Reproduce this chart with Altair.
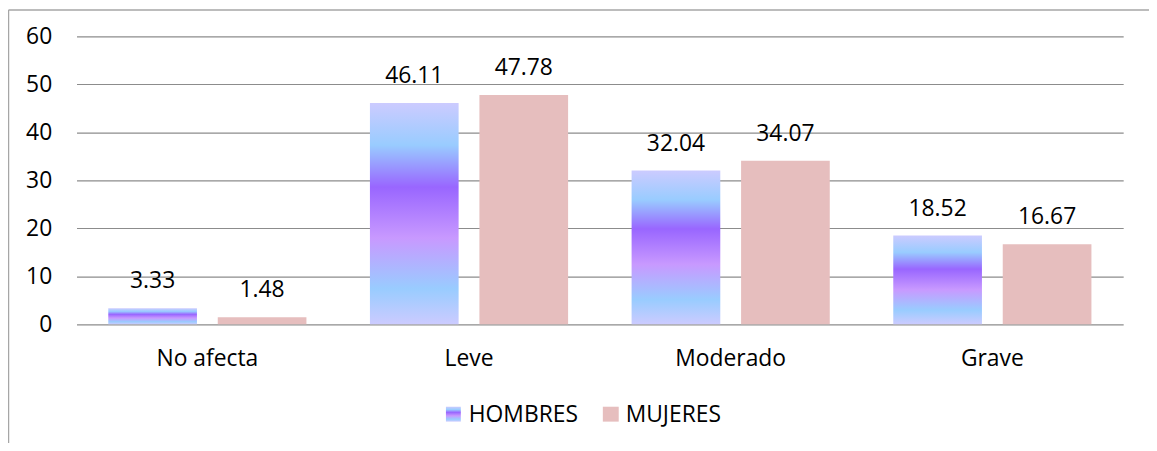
import altair as alt
import pandas as pd

categories = ["No afecta", "Leve", "Moderado", "Grave"]
series = ["HOMBRES", "MUJERES"]
hombres = [3.33, 46.11, 32.04, 18.52]
mujeres = [1.48, 47.78, 34.07, 16.67]
y_ticks = [0, 10, 20, 30, 40, 50, 60]

rows = []
for c, h, m in zip(categories, hombres, mujeres):
    rows.append({"cat": c, "serie": series[0], "valor": h})
    rows.append({"cat": c, "serie": series[1], "valor": m})
df = pd.DataFrame(rows)

FONT = "Open Sans"
FS = 23
MUJ_COLOR = "#e6bebe"
FRAME = "#a6a6a6"

grad = alt.Gradient(
    gradient="linear", x1=0, y1=0, x2=0, y2=1,
    stops=[
        alt.GradientStop(color="#cccbff", offset=0),
        alt.GradientStop(color="#99ccff", offset=0.19),
        alt.GradientStop(color="#9966ff", offset=0.38),
        alt.GradientStop(color="#c899ff", offset=0.61),
        alt.GradientStop(color="#99ccff", offset=0.84),
        alt.GradientStop(color="#cccbff", offset=1),
    ],
)

x = alt.X(
    "cat:N", sort=categories,
    scale=alt.Scale(paddingInner=0, paddingOuter=0),
    axis=alt.Axis(title=None, labelAngle=0, ticks=False, domain=False, grid=False,
                  labelPadding=23, labelFontSize=FS, labelFont=FONT, labelColor="black"),
)
xo = alt.XOffset("serie:N", sort=series,
                 scale=alt.Scale(domain=series, paddingInner=0.19, paddingOuter=0.29))
y = alt.Y(
    "valor:Q", scale=alt.Scale(domain=[0, 60]),
    axis=alt.Axis(values=y_ticks, title=None, domain=False, ticks=False,
                  gridColor="#8c8c8c", gridWidth=1.2, labelPadding=25,
                  labelFontSize=FS, labelFont=FONT, labelColor="black"),
)

base = alt.Chart(df)
bars_h = base.transform_filter(alt.datum.serie == series[0]).mark_bar(fill=grad).encode(x=x, xOffset=xo, y=y)
bars_m = base.transform_filter(alt.datum.serie == series[1]).mark_bar(fill=MUJ_COLOR).encode(x=x, xOffset=xo, y=y)
labels = base.mark_text(baseline="alphabetic", dy=-20, fontSize=FS, font=FONT, color="black").encode(
    x=x, xOffset=xo, y=y, text=alt.Text("valor:Q", format=".2f")
)

one = pd.DataFrame({"serie": series})
leg_h = alt.Chart(one).transform_filter(alt.datum.serie == series[0]).mark_rect(fill=grad).encode(
    x=alt.value(372), x2=alt.value(387), y=alt.value(373), y2=alt.value(388))
leg_m = alt.Chart(one).transform_filter(alt.datum.serie == series[1]).mark_rect(fill=MUJ_COLOR).encode(
    x=alt.value(530), x2=alt.value(546), y=alt.value(373), y2=alt.value(388))
leg_th = alt.Chart(one).transform_filter(alt.datum.serie == series[0]).mark_text(
    align="left", baseline="alphabetic", fontSize=FS, font=FONT, color="black").encode(
    x=alt.value(395), y=alt.value(388), text="serie:N")
leg_tm = alt.Chart(one).transform_filter(alt.datum.serie == series[1]).mark_text(
    align="left", baseline="alphabetic", fontSize=FS, font=FONT, color="black").encode(
    x=alt.value(553), y=alt.value(388), text="serie:N")

frame_top = alt.Chart(one).transform_filter(alt.datum.serie == series[0]).mark_rule(color=FRAME, strokeWidth=1.5).encode(
    x=alt.value(-68.5), x2=alt.value(1080), y=alt.value(-26.5))
frame_left = alt.Chart(one).transform_filter(alt.datum.serie == series[0]).mark_rule(color=FRAME, strokeWidth=1.5).encode(
    x=alt.value(-68.5), y=alt.value(-26.5), y2=alt.value(410))

chart = alt.layer(
    bars_h, bars_m, labels, leg_h, leg_m, leg_th, leg_tm, frame_top, frame_left
).properties(
    width=1054, height=290,
    autosize=alt.AutoSizeParams(type="none"),
    padding={"left": 69, "top": 27, "right": 26, "bottom": 118},
    background="white",
).configure_view(stroke=None)

chart.save("out.html", embed_options={"renderer": "svg", "actions": False})
